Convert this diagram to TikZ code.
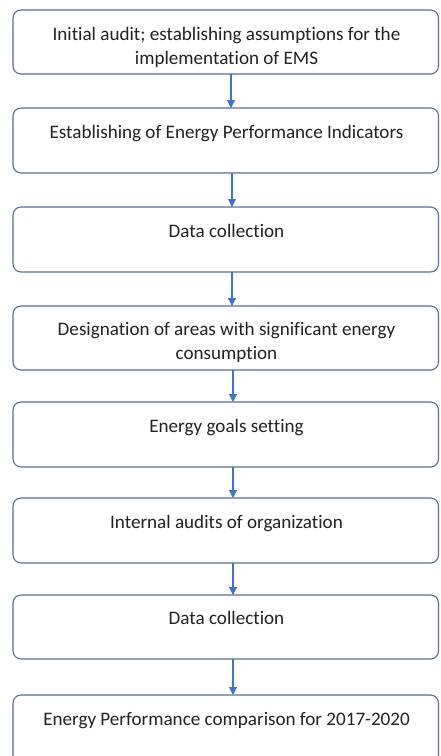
\documentclass[tikz,border=0pt]{standalone}
\usepackage{fontspec}
\setmainfont{Carlito}[Ligatures=NoCommon]
\usetikzlibrary{arrows.meta}
\definecolor{boxline}{HTML}{5A6E99}
\definecolor{flow}{HTML}{4472C4}
\definecolor{ink}{HTML}{222222}
\begin{document}
\begin{tikzpicture}[x=1pt,y=-1pt,
  stepbox/.style={draw=boxline, line width=1.1pt, rounded corners=8pt, fill=white},
  steptext/.style={anchor=base, text=ink, align=center, inner sep=0pt,
    font=\fontsize{19.1}{24.5}\selectfont},
  flowarrow/.style={draw=flow, line width=1.1pt, -{Triangle[width=8pt,length=8pt]}}]
\clip (0,0) rectangle (441,756);
\fill[white] (0,0) rectangle (441,756);
% boxes of the flow, top to bottom
\draw[stepbox] (13,10)  rectangle (438.5,74);
\draw[stepbox] (13,108) rectangle (438.5,173);
\draw[stepbox] (13,207) rectangle (438.5,272);
\draw[stepbox] (13,306) rectangle (438.5,370);
\draw[stepbox] (13,402) rectangle (438.5,467);
\draw[stepbox] (13,498) rectangle (438.5,563);
\draw[stepbox] (13,595) rectangle (438.5,659);
\draw[stepbox] (13,695) rectangle (438.5,770);
% anchors for the connectors
\coordinate (o1) at (231,74);  \coordinate (i2) at (231,108);
\coordinate (o2) at (232,173); \coordinate (i3) at (232,207);
\coordinate (o3) at (232,272); \coordinate (i4) at (232,306);
\coordinate (o4) at (233,370); \coordinate (i5) at (233,402);
\coordinate (o5) at (233,467); \coordinate (i6) at (233,498);
\coordinate (o6) at (233,563); \coordinate (i7) at (233,595);
\coordinate (o7) at (233,659); \coordinate (i8) at (233,695);
% two-line labels are cut at the bottom of their text frame
% (the base anchor of a two-line node sits on its last line)
\begin{scope}
  \clip (13,10) rectangle (438.5,68);
  \node[steptext] (t1) at (226.5,64.5) {Initial audit; establishing assumptions for the\\implementation of EMS};
\end{scope}
\node[steptext] (t2) at (226.5,138) {Establishing of Energy Performance Indicators};
\node[steptext] (t3) at (226.5,237) {Data collection};
\begin{scope}
  \clip (13,306) rectangle (438.5,362);
  \node[steptext] (t4) at (226.5,359.5) {Designation of areas with significant energy\\consumption};
\end{scope}
\node[steptext] (t5) at (226.5,432) {Energy goals setting};
\node[steptext] (t6) at (226.5,528) {Internal audits of organization};
\node[steptext] (t7) at (226.5,624) {Data collection};
\node[steptext] (t8) at (226.5,725) {Energy Performance comparison for 2017-2020};
% connectors
\draw[flowarrow] (o1) -- (i2);
\draw[flowarrow] (o2) -- (i3);
\draw[flowarrow] (o3) -- (i4);
\draw[flowarrow] (o4) -- (i5);
\draw[flowarrow] (o5) -- (i6);
\draw[flowarrow] (o6) -- (i7);
\draw[flowarrow] (o7) -- (i8);
\end{tikzpicture}
\end{document}
